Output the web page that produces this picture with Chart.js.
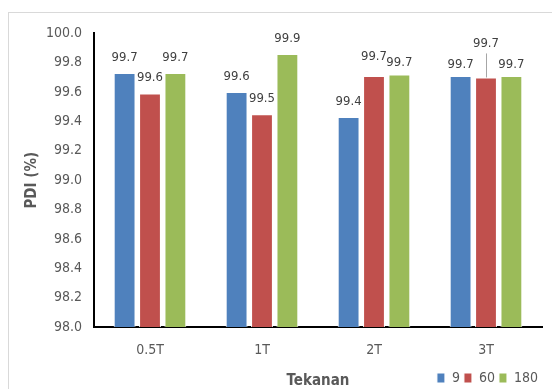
<!DOCTYPE html>
<html>
<head>
<meta charset="utf-8">
<script src="https://cdn.jsdelivr.net/npm/chart.js@4/dist/chart.umd.min.js"></script>
<style>
  html, body { margin: 0; padding: 0; background: #fff; width: 552px; height: 389px; overflow: hidden; }
  #frame { position: absolute; left: 8px; top: 12px; width: 544px; height: 377px;
           border-top: 1px solid #d9d9d9; border-left: 1px solid #d9d9d9; }
</style>
</head>
<body>
<div id="frame"><canvas id="pdiChart" width="543" height="376"></canvas></div>
<script>
// Tekanan (pressure) categories and PDI values per series
const categories = ['0.5T', '1T', '2T', '3T'];
const seriesNames = ['9', '60', '180'];
const pdi9 = [99.73, 99.60, 99.43, 99.71];
const pdi60 = [99.59, 99.45, 99.71, 99.70];
const pdi180 = [99.73, 99.86, 99.72, 99.71];
const yTicks = [98.0, 98.2, 98.4, 98.6, 98.8, 99.0, 99.2, 99.4, 99.6, 99.8, 100.0];

const colors = ['#4F81BD', '#C0504D', '#9BBB59'];
const fontFam = "'Liberation Sans Narrow', 'DejaVu Sans Condensed', sans-serif";

const data = {
    labels: categories,
    datasets: [pdi9, pdi60, pdi180].map((vals, i) => ({
        label: seriesNames[i],
        data: vals,
        backgroundColor: colors[i],
        borderColor: '#ffffff',
        borderWidth: 1,
        categoryPercentage: 0.68,
        barPercentage: 0.86
    }))
};

// gap between bar top and its label; a few labels sit higher/lower like in the original
function labelGap(di, i) {
    if (di === 1 && i === 3) return 27;   // lifted, with leader line
    if (di === 1 && i === 2) return 13;
    if (di === 2 && i === 2) return 5;
    if (i === 3) return 5;
    return 9;
}

const valueLabels = {
    id: 'valueLabels',
    afterDatasetsDraw(chart) {
        const ctx = chart.ctx;
        ctx.save();
        ctx.font = '13px ' + fontFam;
        ctx.fillStyle = '#404040';
        ctx.textAlign = 'center';
        ctx.textBaseline = 'bottom';
        chart.data.datasets.forEach((ds, di) => {
            chart.getDatasetMeta(di).data.forEach((bar, i) => {
                const y = bar.y - labelGap(di, i);
                if (di === 1 && i === 3) {
                    ctx.strokeStyle = '#a6a6a6';
                    ctx.lineWidth = 1;
                    ctx.beginPath();
                    ctx.moveTo(Math.round(bar.x) + 0.5, y + 3);
                    ctx.lineTo(Math.round(bar.x) + 0.5, bar.y);
                    ctx.stroke();
                }
                ctx.fillText(ds.data[i].toFixed(1), bar.x, y);
            });
        });
        ctx.restore();
    }
};

// x axis title shares the row with the legend
const xTitle = {
    id: 'xTitle',
    afterDraw(chart) {
        const ctx = chart.ctx;
        const a = chart.chartArea;
        ctx.save();
        ctx.font = 'bold 15px ' + fontFam;
        ctx.fillStyle = '#595959';
        ctx.textAlign = 'center';
        ctx.textBaseline = 'middle';
        ctx.fillText('Tekanan', (a.left + a.right) / 2, chart.legend.top + chart.legend.height / 2);
        ctx.restore();
    }
};

const config = {
    type: 'bar',
    data: data,
    plugins: [valueLabels, xTitle],
    options: {
        responsive: false,
        animation: false,
        layout: { padding: { top: 14, right: 10, left: 14, bottom: -6 } },
        plugins: {
            legend: {
                position: 'bottom',
                align: 'end',
                labels: {
                    boxWidth: 8,
                    boxHeight: 10,
                    padding: 4,
                    color: '#595959',
                    font: { size: 14, family: fontFam }
                }
            },
            tooltip: { enabled: false }
        },
        scales: {
            x: {
                afterFit(scale) { scale.height = 40; },
                grid: { display: false, drawTicks: false },
                border: { color: '#000', width: 2 },
                ticks: { color: '#595959', padding: 15, font: { size: 14, family: fontFam } }
            },
            y: {
                min: 98,
                max: 100,
                afterBuildTicks(scale) { scale.ticks = yTicks.map(v => ({ value: v })); },
                afterFit(scale) { scale.width = 71; },
                grid: { display: false, drawTicks: false },
                border: { color: '#000', width: 2 },
                ticks: {
                    color: '#595959',
                    padding: 12,
                    font: { size: 14, family: fontFam },
                    callback: v => Number(v).toFixed(1)
                },
                title: {
                    display: true,
                    text: 'PDI (%)',
                    color: '#595959',
                    font: { size: 15, weight: 'bold', family: fontFam },
                    padding: { top: 0, bottom: 0 }
                }
            }
        }
    }
};

const pdiChart = new Chart(document.getElementById('pdiChart'), config);
</script>
</body>
</html>
